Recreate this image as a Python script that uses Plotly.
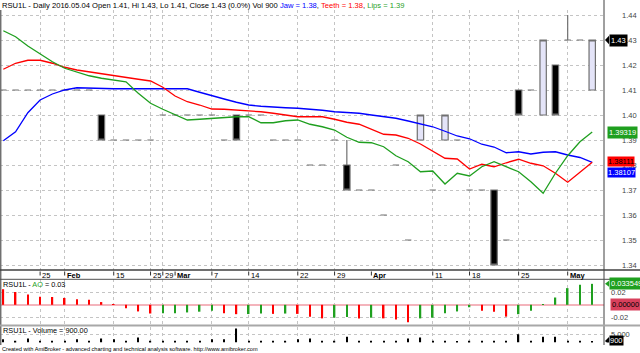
import plotly.graph_objects as go

# ---------------- data ----------------
bars = list(range(49))
opens = [1.41, 1.41, 1.41, 1.41, 1.41, 1.41, 1.41, 1.41, 1.40, 1.39, 1.39, 1.39, 1.39,
         1.40, 1.40, 1.40, 1.40, 1.40, 1.39, 1.40, 1.40, 1.40, 1.39, 1.39, 1.39,
         1.38, 1.38, 1.39, 1.38, 1.37, 1.37, 1.36, 1.38, 1.35, 1.39, 1.37, 1.39, 1.39,
         1.37, 1.37, 1.37, 1.35, 1.41, 1.41, 1.40, 1.42, 1.43, 1.43, 1.41]
highs = [1.41, 1.41, 1.41, 1.41, 1.41, 1.41, 1.41, 1.41, 1.40, 1.39, 1.39, 1.39, 1.39,
         1.40, 1.40, 1.40, 1.40, 1.40, 1.39, 1.40, 1.40, 1.40, 1.39, 1.39, 1.39,
         1.38, 1.38, 1.39, 1.39, 1.37, 1.37, 1.36, 1.38, 1.35, 1.40, 1.37, 1.40, 1.39,
         1.37, 1.37, 1.37, 1.35, 1.41, 1.41, 1.43, 1.42, 1.44, 1.43, 1.43]
lows = [1.41, 1.41, 1.41, 1.41, 1.41, 1.41, 1.41, 1.41, 1.39, 1.39, 1.39, 1.39, 1.39,
        1.40, 1.40, 1.40, 1.40, 1.40, 1.39, 1.39, 1.40, 1.40, 1.39, 1.39, 1.39,
        1.38, 1.38, 1.39, 1.37, 1.37, 1.37, 1.36, 1.38, 1.35, 1.39, 1.37, 1.39, 1.39,
        1.37, 1.37, 1.34, 1.35, 1.40, 1.41, 1.40, 1.40, 1.43, 1.43, 1.41]
closes = [1.41, 1.41, 1.41, 1.41, 1.41, 1.41, 1.41, 1.41, 1.39, 1.39, 1.39, 1.39, 1.39,
          1.40, 1.40, 1.40, 1.40, 1.40, 1.39, 1.39, 1.40, 1.40, 1.39, 1.39, 1.39,
          1.38, 1.38, 1.39, 1.37, 1.37, 1.37, 1.36, 1.38, 1.35, 1.40, 1.37, 1.40, 1.39,
          1.37, 1.37, 1.34, 1.35, 1.40, 1.41, 1.43, 1.40, 1.43, 1.43, 1.43]

jaw = [1.3897, 1.3933, 1.4009, 1.4060, 1.4084, 1.4100, 1.4109, 1.4107, 1.4105, 1.4105,
       1.4105, 1.4105, 1.4105, 1.4105, 1.4105, 1.4105, 1.4091, 1.4076, 1.4064, 1.4051,
       1.4040, 1.4035, 1.4031, 1.4029, 1.4027, 1.4024, 1.4019, 1.4013, 1.4011, 1.4007,
       1.4000, 1.3993, 1.3987, 1.3976, 1.3963, 1.3953, 1.3935, 1.3916, 1.3905, 1.3883,
       1.3872, 1.3849, 1.3853, 1.3844, 1.3851, 1.3853, 1.3840, 1.3830, 1.38107]
teeth = [1.4183, 1.4207, 1.4219, 1.4219, 1.4207, 1.4191, 1.4180, 1.4172, 1.4164, 1.4156,
         1.4149, 1.4143, 1.4136, 1.4111, 1.4076, 1.4053, 1.4040, 1.4024, 1.4023, 1.4020,
         1.4017, 1.4013, 1.4007, 1.4000, 1.3993, 1.3993, 1.3993, 1.3983, 1.3971, 1.3963,
         1.3943, 1.3923, 1.3920, 1.3907, 1.3884, 1.3857, 1.3827, 1.3824, 1.3784, 1.3803,
         1.3793, 1.3809, 1.3823, 1.3807, 1.3797, 1.3767, 1.3731, 1.3771, 1.38111]
lips = [1.4337, 1.4313, 1.4276, 1.4243, 1.4213, 1.4187, 1.4171, 1.4157, 1.4147, 1.4140,
        1.4133, 1.4087, 1.4047, 1.4023, 1.4000, 1.3980, 1.3983, 1.3987, 1.3991, 1.3993,
        1.3993, 1.3969, 1.3969, 1.3977, 1.3980, 1.3963, 1.3953, 1.3940, 1.3911, 1.3891,
        1.3889, 1.3873, 1.3837, 1.3813, 1.3773, 1.3776, 1.3724, 1.3767, 1.3756, 1.3793,
        1.3813, 1.3793, 1.3773, 1.3733, 1.3687, 1.3767, 1.3837, 1.3893, 1.39319]

ao = [0.0250, 0.0205, 0.0167, 0.0128, 0.0125, 0.0110, 0.0089, 0.0083, 0.0044, 0.0003,
      -0.0056, -0.0106, -0.0139, -0.0136, -0.0133, -0.0122, -0.0110, -0.0094, -0.0133, -0.0150,
      -0.0148, -0.0139, -0.0145, -0.0140, -0.0145, -0.0190, -0.0217, -0.0206, -0.0194, -0.0217,
      -0.0206, -0.0217, -0.0233, -0.0278, -0.0217, -0.0206, -0.0133, -0.0106, -0.0039, -0.0094,
      -0.0110, -0.0189, -0.0150, -0.0094, 0.0010, 0.0117, 0.0267, 0.0322, 0.033549]

volume = [1950, 1000, 2350, 1000, 1000, 1000, 1950, 1000, 2350, 1950,
          1000, 2950, 1000, 1000, 1000, 1000, 1000, 1950, 1950, 8230,
          1000, 1000, 1000, 1000, 1950, 2350, 1000, 1000, 3350, 1000,
          1000, 1000, 1000, 2350, 2950, 1000, 1000, 500, 1000, 1000,
          1000, 1000, 4900, 1000, 3350, 3350, 1000, 1000, 900]

label_idx = [3, 5, 9, 12, 13, 14, 17, 20, 24, 27, 30, 35, 38, 42, 46]
label_txt = ['25', 'Feb', '15', '25', '29', 'Mar', '7', '14', '22', '29', 'Apr', '11', '18', '25', 'May']
month_labels = ['Feb', 'Mar', 'Apr', 'May']
week_idx = [3, 5, 9, 12, 13, 17, 20, 24, 27, 35, 38, 42, 46]

price_ticks = [1.34, 1.35, 1.36, 1.37, 1.38, 1.39, 1.40, 1.41, 1.42, 1.43, 1.44]

# ---------------- geometry helpers ----------------
W, H = 640, 353
PR = 604.0


def px(x):
    return x / PR


def py(y):
    return 1 - y / H


FONT = "Arial, Liberation Sans, sans-serif"
GRID = '#c4c4c4'

fig = go.Figure()

fig.add_trace(go.Candlestick(
    x=bars, open=opens, high=highs, low=lows, close=closes,
    increasing=dict(fillcolor='#e4e4f8', line=dict(color='#707070', width=1.2)),
    decreasing=dict(fillcolor='#000000', line=dict(color='#707070', width=1.2)),
    whiskerwidth=0, xaxis='x', yaxis='y', hoverinfo='skip', showlegend=False))

for vals, col in [(jaw, '#0000ff'), (teeth, '#ff0000'), (lips, '#1f9f1f')]:
    fig.add_trace(go.Scatter(x=bars, y=vals, mode='lines', line=dict(color=col, width=1.3),
                             xaxis='x', yaxis='y', hoverinfo='skip', showlegend=False))

ao_colors = ['#ff0000' if k == 0 or ao[k] <= ao[k - 1] else '#1fa01f' for k in range(len(ao))]
fig.add_trace(go.Bar(x=bars, y=ao, width=0.13, marker=dict(color=ao_colors, line=dict(width=0)),
                     xaxis='x2', yaxis='y2', hoverinfo='skip', showlegend=False))
fig.add_trace(go.Bar(x=bars, y=volume, width=0.1, marker=dict(color='#000000', line=dict(width=0)),
                     xaxis='x3', yaxis='y3', hoverinfo='skip', showlegend=False))


def xax(anchor):
    return dict(domain=[0, 1], range=[-0.27, 48.96], anchor=anchor, showticklabels=False,
                showgrid=False, zeroline=False, showline=False, ticks='', tickmode='array', tickvals=[],
                minor=dict(tickmode='array', tickvals=week_idx, showgrid=True, gridcolor=GRID,
                           griddash='dot', gridwidth=1, ticks=''),
                fixedrange=True)


x1 = xax('y')
x1['rangeslider'] = dict(visible=False)

fig.update_layout(
    width=W, height=H, autosize=False,
    margin=dict(l=0, r=W - PR, t=0, b=0, pad=0),
    paper_bgcolor='white', plot_bgcolor='white',
    showlegend=False, boxgap=0.26,
    font=dict(family=FONT, size=7.5, color='#000000'),
    xaxis=x1, xaxis2=xax('y2'), xaxis3=xax('y3'),
    yaxis=dict(domain=[py(270), py(10)], range=[1.338, 1.442], side='right', anchor='x',
               tickmode='array', tickvals=price_ticks, ticktext=['%.2f' % v for v in price_ticks],
               showgrid=True, gridcolor=GRID, griddash='dot', zeroline=False, ticks='',
               ticklabelstandoff=17, tickfont=dict(size=7.5, color='#444444'), fixedrange=True),
    yaxis2=dict(domain=[py(325), py(279)], range=[-0.0323, 0.0413], side='right', anchor='x2',
                tickmode='array', tickvals=[-0.02, 0.02], ticktext=['-0.02', '0.02'],
                showgrid=True, gridcolor=GRID, griddash='dot',
                zeroline=True, zerolinecolor='#f4b4bc', zerolinewidth=2, ticks='',
                ticklabelstandoff=6, tickfont=dict(size=7.5, color='#444444'), fixedrange=True),
    yaxis3=dict(domain=[py(342.5), py(327)], range=[0, 9120], side='right', anchor='x3',
                tickmode='array', tickvals=[5000], ticktext=['5,000'],
                showgrid=True, gridcolor=GRID, griddash='dot', zeroline=False, ticks='',
                ticklabelstandoff=6, tickfont=dict(size=7.5, color='#444444'), fixedrange=True),
)

shapes = []
# panel borders / separators
shapes.append(dict(type='line', xref='paper', yref='paper', x0=px(0.7), x1=px(0.7), y0=py(10), y1=py(345),
                   line=dict(color='#707070', width=1.5)))
shapes.append(dict(type='line', xref='paper', yref='paper', x0=px(604), x1=px(604), y0=py(0), y1=py(345),
                   line=dict(color='#404040', width=1)))
shapes.append(dict(type='line', xref='paper', yref='paper', x0=0, x1=px(W), y0=py(270), y1=py(270),
                   line=dict(color='#404040', width=1.5)))
shapes.append(dict(type='line', xref='paper', yref='paper', x0=0, x1=px(W), y0=py(279.3), y1=py(279.3),
                   line=dict(color='#505050', width=1)))
shapes.append(dict(type='line', xref='paper', yref='paper', x0=0, x1=px(W), y0=py(325.5), y1=py(325.5),
                   line=dict(color='#a8a8a8', width=2)))
# date tick marks
for i in label_idx:
    shapes.append(dict(type='line', xref='x', yref='paper', x0=i, x1=i, y0=py(271.5), y1=py(275.5),
                       line=dict(color='#303030', width=1)))


def tip(ref, yv, dy, color):
    return dict(type='path', xref='paper', yref=ref,
                path='M %f %f L %f %f L %f %f Z' % (px(605), yv, px(609), yv + dy, px(609), yv - dy),
                fillcolor=color, line=dict(width=0))


shapes.append(tip('y', closes[-1], 0.0017, '#000000'))
shapes.append(tip('y2', ao[-1], 0.0048, '#1f9f1f'))
shapes.append(tip('y3', volume[-1], 2400, '#000000'))
fig.update_layout(shapes=shapes)

ann = []
chg = (closes[-1] - closes[-2]) / closes[-2] * 100
title = ("RSU1L - Daily 2016.05.04 Open %.2f, Hi %.2f, Lo %.2f, Close %.2f (%.1f%%) Vol %d "
         "<span style='color:#0000ff'>Jaw = %.2f</span>, <span style='color:#ff0000'>Teeth = %.2f</span>, "
         "<span style='color:#1f9f1f'>Lips = %.2f</span>") % (
    opens[-1], highs[-1], lows[-1], closes[-1], chg, volume[-1], jaw[-1], teeth[-1], lips[-1])
ann.append(dict(text=title, xref='paper', yref='paper', x=px(1), y=py(5.5), xanchor='left',
                yanchor='middle', showarrow=False, font=dict(size=7.6), borderpad=0))
ann.append(dict(text="RSU1L - <span style='color:#1f9f1f'>AO</span> = %.2f" % ao[-1], xref='paper', yref='paper',
                x=px(1.5), y=py(284.5), xanchor='left', yanchor='middle', showarrow=False,
                font=dict(size=7.3), borderpad=0))
ann.append(dict(text="RSU1L - Volume = %.2f" % volume[-1], xref='paper', yref='paper',
                x=px(1.5), y=py(330.5), xanchor='left', yanchor='middle', showarrow=False,
                font=dict(size=7.3), borderpad=0))
ann.append(dict(text="Created with AmiBroker - advanced charting and technical analysis software. http://www.amibroker.com",
                xref='paper', yref='paper', x=px(1), y=py(349), xanchor='left', yanchor='middle',
                showarrow=False, font=dict(size=5.6), borderpad=0))
for i, t in zip(label_idx, label_txt):
    ann.append(dict(text=('<b>%s</b>' % t) if t in month_labels else t, xref='x', yref='paper',
                    x=i, y=py(275.5), xanchor='left', yanchor='middle', xshift=1, showarrow=False,
                    font=dict(size=7.5), borderpad=0))


def box(text, ref, yv, bg, fg, xpx=609, yshift=0, pad=1):
    return dict(text=text, xref='paper', yref=ref, x=px(xpx), y=yv, xanchor='left', yanchor='middle',
                showarrow=False, bgcolor=bg, font=dict(size=7.5, color=fg), borderpad=pad, yshift=yshift)


ann.append(box('%.2f' % closes[-1], 'y', closes[-1], '#000000', '#ffffff'))
ann.append(box('%.5f' % lips[-1], 'y', lips[-1], '#1f9f1f', '#ffffff', xpx=607))
ann.append(box('%.5f' % teeth[-1], 'y', teeth[-1], '#ff0000', '#000000', xpx=607, yshift=0.5, pad=0))
ann.append(box('%.5f' % jaw[-1], 'y', jaw[-1], '#0000ff', '#ffffff', xpx=607, yshift=-10, pad=0))
ann.append(box('%.6f' % ao[-1], 'y2', ao[-1], '#1f9f1f', '#ffffff'))
ann.append(box('%.5f' % 0.0, 'y2', 0.0, '#d8405c', '#000000', xpx=610))
ann.append(box('%d' % volume[-1], 'y3', volume[-1], '#000000', '#ffffff', pad=0))
fig.update_layout(annotations=ann)

fig.write_html("out.html")
